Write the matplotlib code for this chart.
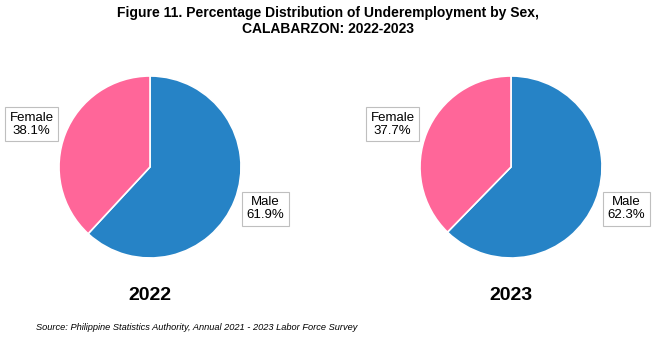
import matplotlib.pyplot as plt

plt.rcParams['font.family'] = ['Liberation Sans', 'DejaVu Sans']

years = ['2022', '2023']
sexes = ['Male', 'Female']
male_pct = [61.9, 62.3]
female_pct = [38.1, 37.7]
colors = ['#2683C6', '#FF6699']

W, H = 655, 340
fig = plt.figure(figsize=(W / 100, H / 100), dpi=100)

fig.text(0.5, 1 - 21 / H, 'Figure 11. Percentage Distribution of Underemployment by Sex,\nCALABARZON: 2022-2023',
         ha='center', va='center', fontsize=10, fontweight='bold', linespacing=1.2)

# pie centres in pixels
centres = [(150, 167), (511, 167)]
r = 91

for i, year in enumerate(years):
    cx, cy = centres[i]
    ax = fig.add_axes([(cx - r) / W, (H - cy - r) / H, 2 * r / W, 2 * r / H])
    vals = [male_pct[i], female_pct[i]]
    ax.pie(vals, colors=colors, startangle=90, counterclock=False, radius=1,
           wedgeprops=dict(edgecolor='white', linewidth=1.2))
    ax.set_xlim(-1, 1)
    ax.set_ylim(-1, 1)
    ax.set_aspect('equal')
    ax.axis('off')

    box = dict(boxstyle='square,pad=0.35', facecolor='white', edgecolor='#BFBFBF', linewidth=0.8)
    ax.text(-1.30, 0.47, f'{sexes[1]}\n{female_pct[i]:.1f}%', ha='center', va='center',
            fontsize=9.5, bbox=box, linespacing=1.1)
    ax.text(1.27, -0.46, f'{sexes[0]}\n{male_pct[i]:.1f}%', ha='center', va='center',
            fontsize=9.5, bbox=box, linespacing=1.1)

    fig.text(cx / W, 1 - 295 / H, year, ha='center', va='center', fontsize=14, fontweight='bold')

fig.text(36 / W, 1 - 327 / H, 'Source: Philippine Statistics Authority, Annual 2021 - 2023 Labor Force Survey',
         ha='left', va='center', fontsize=6.7, style='italic')

fig.savefig('out.png', dpi=100)
